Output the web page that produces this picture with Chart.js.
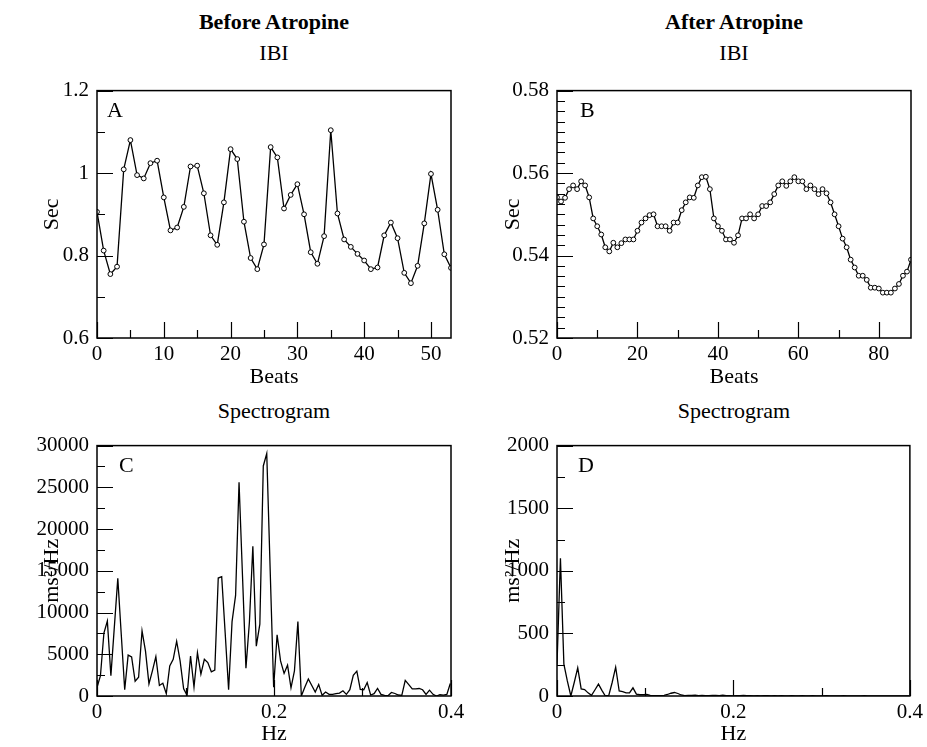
<!DOCTYPE html>
<html>
<head>
<meta charset="utf-8">
<script src="https://cdn.jsdelivr.net/npm/chart.js@4.4.1/dist/chart.umd.min.js"></script>
<style>
  body { margin: 0; background: #fff; }
  #page { position: relative; width: 927px; height: 747px; overflow: hidden; font-family: "Liberation Serif", serif; color: #000; }
  canvas { position: absolute; }
  .hd { position: absolute; width: 354px; text-align: center; font-size: 22px; line-height: 22px; white-space: nowrap; }
  .bold { font-weight: bold; }
</style>
</head>
<body>
<div id="page">
  <div class="hd bold" style="left:97px; top:11px;">Before Atropine</div>
  <div class="hd bold" style="left:557px; top:11px;">After Atropine</div>
  <div class="hd" style="left:97px; top:42px;">IBI</div>
  <div class="hd" style="left:557px; top:42px;">IBI</div>
  <div class="hd" style="left:97px; top:400px;">Spectrogram</div>
  <div class="hd" style="left:557px; top:400px;">Spectrogram</div>
  <canvas id="graficoA" width="470" height="320" style="left:0; top:70px;"></canvas>
  <canvas id="graficoB" width="464" height="320" style="left:463px; top:70px;"></canvas>
  <canvas id="graficoC" width="470" height="322" style="left:0; top:425px;"></canvas>
  <canvas id="graficoD" width="464" height="322" style="left:463px; top:425px;"></canvas>
</div>
<script>
// IBI (sec) per beat, before atropine
const ibiAntes = [0.906, 0.812, 0.755, 0.773, 1.009, 1.080, 0.995, 0.987, 1.024, 1.030,
  0.941, 0.861, 0.868, 0.918, 1.016, 1.018, 0.951, 0.849, 0.826, 0.929,
  1.058, 1.034, 0.882, 0.794, 0.767, 0.827, 1.063, 1.038, 0.914, 0.947,
  0.973, 0.900, 0.808, 0.780, 0.847, 1.104, 0.902, 0.839, 0.821, 0.804,
  0.788, 0.767, 0.771, 0.849, 0.880, 0.842, 0.758, 0.733, 0.775, 0.878,
  0.998, 0.911, 0.803, 0.770];

// IBI (sec) per beat, after atropine
const ibiDepois = [0.5541, 0.5531, 0.5540, 0.5561, 0.5570, 0.5561, 0.5580, 0.5570, 0.5541, 0.5490,
  0.5471, 0.5451, 0.5420, 0.5410, 0.5431, 0.5420, 0.5430, 0.5439, 0.5439, 0.5439,
  0.5460, 0.5480, 0.5490, 0.5498, 0.5500, 0.5471, 0.5471, 0.5471, 0.5460, 0.5480,
  0.5480, 0.5510, 0.5529, 0.5541, 0.5540, 0.5570, 0.5590, 0.5591, 0.5561, 0.5490,
  0.5471, 0.5460, 0.5439, 0.5439, 0.5431, 0.5449, 0.5490, 0.5490, 0.5500, 0.5490,
  0.5500, 0.5520, 0.5520, 0.5529, 0.5549, 0.5570, 0.5580, 0.5569, 0.5580, 0.5590,
  0.5580, 0.5580, 0.5561, 0.5570, 0.5561, 0.5549, 0.5561, 0.5551, 0.5529, 0.5500,
  0.5471, 0.5441, 0.5420, 0.5390, 0.5371, 0.5351, 0.5351, 0.5341, 0.5322, 0.5322,
  0.5320, 0.5310, 0.5310, 0.5310, 0.5320, 0.5331, 0.5351, 0.5361, 0.5390];

// frequency bins (Hz) shared by both spectrograms
const frequencias = [0, 0.0039, 0.0078, 0.0117, 0.0157, 0.0196, 0.0235, 0.0274, 0.0313, 0.0352,
  0.0391, 0.0431, 0.0470, 0.0509, 0.0548, 0.0587, 0.0626, 0.0665, 0.0705, 0.0744,
  0.0783, 0.0822, 0.0861, 0.0900, 0.0939, 0.0979, 0.1018, 0.1057, 0.1096, 0.1135,
  0.1174, 0.1213, 0.1252, 0.1292, 0.1331, 0.1370, 0.1409, 0.1448, 0.1487, 0.1526,
  0.1566, 0.1605, 0.1644, 0.1683, 0.1722, 0.1761, 0.1800, 0.1840, 0.1879, 0.1918,
  0.1957, 0.1996, 0.2035, 0.2074, 0.2114, 0.2153, 0.2192, 0.2231, 0.2270, 0.2309,
  0.2348, 0.2388, 0.2427, 0.2466, 0.2505, 0.2544, 0.2583, 0.2622, 0.2662, 0.2701,
  0.2740, 0.2779, 0.2818, 0.2857, 0.2896, 0.2936, 0.2975, 0.3014, 0.3053, 0.3092,
  0.3131, 0.3170, 0.3209, 0.3249, 0.3288, 0.3327, 0.3366, 0.3405, 0.3444, 0.3483,
  0.3523, 0.3562, 0.3601, 0.3640, 0.3679, 0.3718, 0.3757, 0.3797, 0.3836, 0.3875,
  0.3914, 0.3953, 0.3992];

// power (ms^2/Hz), before atropine
const espectroAntes = [1000, 2430, 7540, 8990, 2430, 8280, 14090, 7400, 750, 4900,
  4670, 1770, 2240, 7810, 5380, 1450, 3020, 4710, 1260, 1530,
  280, 3610, 4400, 6560, 4200, 860, 80, 4790, 1060, 5180,
  2630, 4400, 4000, 2900, 3100, 14130, 14290, 7600, 750, 8910,
  12050, 25600, 14400, 3340, 8830, 17940, 5970, 8600, 27560, 29050,
  15000, 1060, 7340, 4200, 2710, 3690, 980, 3020, 8910, 0,
  1060, 2040, 1250, 470, 1370, 80, 470, 200, 200, 280,
  350, 630, 200, 750, 2470, 2980, 780, 750, 1610, 120,
  280, 900, 200, 80, 40, 430, 300, 120, 80, 1880,
  1370, 860, 860, 900, 750, 200, 700, 200, 0, 150,
  100, 200, 1500];

// power (ms^2/Hz), after atropine
const espectroDepois = [250, 1100, 255, 120, 0, 110, 225, 57, 52, 25,
  5, 50, 95, 45, 0, 5, 110, 230, 40, 35,
  25, 25, 65, 15, 10, 10, 12, 5, 3, 3,
  2, 5, 12, 22, 28, 20, 8, 3, 4, 5,
  6, 3, 5, 2, 3, 5, 4, 2, 6, 3,
  2, 1, 3, 2, 4, 2, 3, 1, 2, 1,
  2, 3, 1, 2, 1, 2, 1, 1, 2, 1,
  1, 2, 1, 1, 2, 1, 1, 1, 2, 1,
  1, 1, 1, 2, 1, 1, 1, 1, 1, 2,
  1, 1, 1, 1, 1, 1, 1, 1, 1, 1,
  1, 1, 1];

const batimentosAntes = ibiAntes.map((_, i) => i);
const batimentosDepois = ibiDepois.map((_, i) => i);

// tick values and labels
const ticksBeatsA = [0, 10, 20, 30, 40, 50];
const rotulosBeatsA = ['0', '10', '20', '30', '40', '50'];
const ticksBeatsB = [0, 20, 40, 60, 80];
const rotulosBeatsB = ['0', '20', '40', '60', '80'];
const ticksSecA = [0.6, 0.8, 1.0, 1.2];
const rotulosSecA = ['0.6', '0.8', '1', '1.2'];
const ticksSecB = [0.52, 0.54, 0.56, 0.58];
const rotulosSecB = ['0.52', '0.54', '0.56', '0.58'];
const ticksHz = [0, 0.2, 0.4];
const rotulosHz = ['0', '0.2', '0.4'];
const ticksPotC = [0, 5000, 10000, 15000, 20000, 25000, 30000];
const rotulosPotC = ['0', '5000', '10000', '15000', '20000', '25000', '30000'];
const ticksPotD = [0, 500, 1000, 1500, 2000];
const rotulosPotD = ['0', '500', '1000', '1500', '2000'];

const FONTE = "'Liberation Serif', serif";

function passos(inicio, fim, passo) {
    const out = [];
    for (let v = inicio; v <= fim + passo * 1e-6; v += passo) out.push(v);
    return out;
}

// frame box, inward ticks and panel letter
const moldura = {
    id: 'moldura',
    afterDraw(chart, args, opts) {
        const { ctx, chartArea: a, scales: { x, y } } = chart;
        ctx.save();
        ctx.strokeStyle = '#000';
        ctx.lineWidth = 1.2;
        ctx.beginPath();
        const tick = (lista, len, eixo) => lista.forEach(v => {
            if (eixo === 'x') {
                const px = Math.round(x.getPixelForValue(v)) + 0.5;
                ctx.moveTo(px, a.bottom); ctx.lineTo(px, a.bottom - len);
            } else {
                const py = Math.round(y.getPixelForValue(v)) + 0.5;
                ctx.moveTo(a.left, py); ctx.lineTo(a.left + len, py);
            }
        });
        tick(opts.xMaior, 16, 'x');
        tick(opts.xMenor, 8, 'x');
        tick(opts.yMaior, 16, 'y');
        tick(opts.yMenor, 8, 'y');
        ctx.stroke();
        ctx.lineWidth = 1.5;
        ctx.strokeRect(a.left, a.top, a.right - a.left, a.bottom - a.top);
        ctx.fillStyle = '#000';
        ctx.font = "22px 'Liberation Serif', serif";
        ctx.textBaseline = 'alphabetic';
        ctx.fillText(opts.letra, a.left + opts.dx, a.top + 26);
        ctx.restore();
    }
};

function criarPainel(id, c) {
    new Chart(document.getElementById(id), {
        type: 'line',
        data: {
            labels: c.xs,
            datasets: [{
                data: c.ys,
                borderColor: '#000',
                borderWidth: 1.3,
                pointRadius: c.pontos ? 2.4 : 0,
                pointBorderWidth: 1,
                pointBackgroundColor: '#fff',
                pointBorderColor: '#000',
                tension: 0,
                fill: false
            }]
        },
        options: {
            responsive: false,
            animation: false,
            devicePixelRatio: 1,
            layout: { padding: c.pad },
            plugins: {
                legend: { display: false },
                tooltip: { enabled: false },
                moldura: c.moldura
            },
            scales: {
                x: {
                    type: 'linear',
                    min: c.xMin, max: c.xMax,
                    grid: { display: false, drawTicks: false },
                    border: { display: false },
                    afterBuildTicks: s => { s.ticks = c.xTicks.map(v => ({ value: v })); },
                    afterFit: s => { s.height = c.xAltura; },
                    ticks: {
                        padding: 4, autoSkip: false, maxRotation: 0, color: '#000',
                        font: { family: FONTE, size: 21 },
                        callback: (v, i) => c.xRotulos[i]
                    },
                    title: {
                        display: true, text: c.xTitulo, color: '#000',
                        font: { family: FONTE, size: 22 },
                        padding: { top: 0, bottom: 0 }
                    }
                },
                y: {
                    type: 'linear',
                    min: c.yMin, max: c.yMax,
                    grid: { display: false, drawTicks: false },
                    border: { display: false },
                    afterBuildTicks: s => { s.ticks = c.yTicks.map(v => ({ value: v })); },
                    afterFit: s => { s.width = c.yLargura; },
                    ticks: {
                        padding: 8, autoSkip: false, color: '#000',
                        font: { family: FONTE, size: 21 },
                        callback: (v, i) => c.yRotulos[i]
                    },
                    title: {
                        display: true, text: c.yTitulo, color: '#000',
                        font: { family: FONTE, size: 22 },
                        padding: { top: c.yTituloPad, bottom: 0 }
                    }
                }
            }
        },
        plugins: [moldura]
    });
}

function criarGraficos() {
    criarPainel('graficoA', {
        xs: batimentosAntes, ys: ibiAntes, pontos: true,
        pad: { top: 13, right: 19, left: 0, bottom: 0 },
        xMin: 0, xMax: 53, xTicks: ticksBeatsA, xRotulos: rotulosBeatsA, xAltura: 52, xTitulo: 'Beats',
        yMin: 0.6, yMax: 1.2, yTicks: ticksSecA, yRotulos: rotulosSecA, yLargura: 97, yTitulo: 'Sec', yTituloPad: 39,
        moldura: { xMaior: ticksBeatsA, xMenor: passos(5, 45, 10), yMaior: ticksSecA, yMenor: passos(0.7, 1.1, 0.2), letra: 'A', dx: 10 }
    });
    criarPainel('graficoB', {
        xs: batimentosDepois, ys: ibiDepois, pontos: true,
        pad: { top: 13, right: 16, left: 0, bottom: 0 },
        xMin: 0, xMax: 88, xTicks: ticksBeatsB, xRotulos: rotulosBeatsB, xAltura: 52, xTitulo: 'Beats',
        yMin: 0.52, yMax: 0.58, yTicks: ticksSecB, yRotulos: rotulosSecB, yLargura: 94, yTitulo: 'Sec', yTituloPad: 37,
        moldura: { xMaior: ticksBeatsB, xMenor: passos(10, 70, 20), yMaior: ticksSecB, yMenor: passos(0.5225, 0.5775, 0.0025).filter((v, i) => i % 8 !== 7), letra: 'B', dx: 23 }
    });
    criarPainel('graficoC', {
        xs: frequencias, ys: espectroAntes, pontos: false,
        pad: { top: 16, right: 19, left: 0, bottom: 0 },
        xMin: 0, xMax: 0.4, xTicks: ticksHz, xRotulos: rotulosHz, xAltura: 51, xTitulo: 'Hz',
        yMin: 0, yMax: 30000, yTicks: ticksPotC, yRotulos: rotulosPotC, yLargura: 97, yTitulo: 'ms²/Hz', yTituloPad: 39,
        moldura: { xMaior: ticksHz, xMenor: [0.1, 0.3], yMaior: ticksPotC, yMenor: passos(2500, 27500, 5000), letra: 'C', dx: 22 }
    });
    criarPainel('graficoD', {
        xs: frequencias, ys: espectroDepois, pontos: false,
        pad: { top: 16, right: 16, left: 0, bottom: 0 },
        xMin: 0, xMax: 0.4, xTicks: ticksHz, xRotulos: rotulosHz, xAltura: 51, xTitulo: 'Hz',
        yMin: 0, yMax: 2000, yTicks: ticksPotD, yRotulos: rotulosPotD, yLargura: 94, yTitulo: 'ms²/Hz', yTituloPad: 37,
        moldura: { xMaior: ticksHz, xMenor: [0.1, 0.3], yMaior: ticksPotD, yMenor: passos(250, 1750, 500), letra: 'D', dx: 21 }
    });
}

window.onload = function () {
    criarGraficos();
};
</script>
</body>
</html>
